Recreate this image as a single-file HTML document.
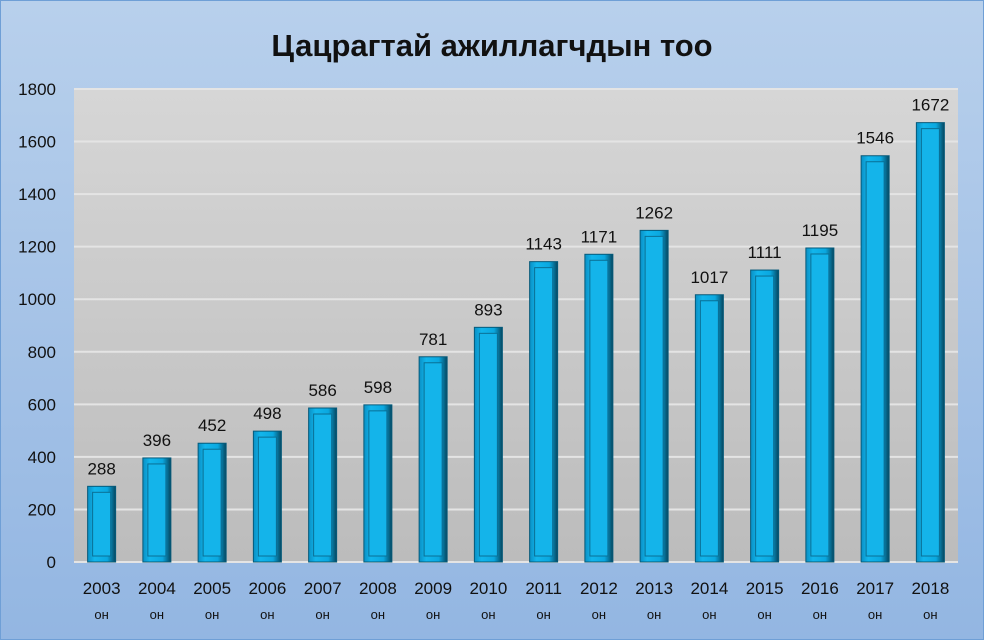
<!DOCTYPE html>
<html><head><meta charset="utf-8"><style>
html,body{margin:0;padding:0;width:984px;height:640px;overflow:hidden}
svg{display:block;font-family:"Liberation Sans","DejaVu Sans",sans-serif}
</style></head><body>
<svg id="chart" width="984" height="640" viewBox="0 0 984 640">
<defs>
<linearGradient id="bg" x1="0" y1="0" x2="0" y2="1"><stop offset="0" stop-color="#b8d0ec"/><stop offset="1" stop-color="#93b6e2"/></linearGradient>
<linearGradient id="plot" x1="0" y1="0" x2="0" y2="1"><stop offset="0" stop-color="#d6d6d6"/><stop offset="1" stop-color="#bcbcbc"/></linearGradient>
<linearGradient id="barg" x1="0" y1="0" x2="1" y2="0"><stop offset="0" stop-color="#0a8fc4"/><stop offset="0.25" stop-color="#12b6ec"/><stop offset="0.7" stop-color="#0aa8e0"/><stop offset="1" stop-color="#05465f"/></linearGradient>
</defs>
<rect x="0" y="0" width="984" height="640" fill="url(#bg)" stroke="#6f9fd6" stroke-width="2"/>
<text x="492" y="56" text-anchor="middle" font-size="31" font-weight="bold" fill="#111">Цацрагтай ажиллагчдын тоо</text>
<rect x="74" y="89" width="884" height="473" fill="url(#plot)"/>
<g id="grid"></g><g id="bars"></g><g id="labels"></g>
</svg>
<script>
const categories=["2003","2004","2005","2006","2007","2008","2009","2010","2011","2012","2013","2014","2015","2016","2017","2018"];
const values=[288,396,452,498,586,598,781,893,1143,1171,1262,1017,1111,1195,1546,1672];
const yTicks=[0,200,400,600,800,1000,1200,1400,1600,1800];
const NS="http://www.w3.org/2000/svg";
const x0=74,x1=958,yTop=89,yBot=562,yMax=1800;
const bw=(x1-x0)/categories.length;
function y(v){return yBot-(v/yMax)*(yBot-yTop);}
function xc(i){return x0+bw*(i+0.5);}
function mk(tag,attrs,parent){const e=document.createElementNS(NS,tag);for(const k in attrs)e.setAttribute(k,attrs[k]);parent.appendChild(e);return e;}
const grid=document.getElementById('grid'),bars=document.getElementById('bars'),labels=document.getElementById('labels');
yTicks.forEach(t=>{
  const l=mk('line',{x1:x0,x2:x1,y1:y(t),y2:y(t),stroke:'#e4e4e4','stroke-width':2},grid);
  
  
  const tx=mk('text',{x:56,y:y(t)+6,'text-anchor':'end','font-size':17,fill:'#111'},grid);
  tx.textContent=t;
  
  
});
categories.forEach((c,i)=>{
  const v=values[i],cx=xc(i),w=28,top=y(v);
  const g=mk('g',{},bars);
  
  
  mk('rect',{x:cx-w/2,y:top,width:w,height:yBot-top,fill:'url(#barg)',stroke:'#065a7a','stroke-width':1},g);
  mk('rect',{x:cx-w/2+5,y:top+6,width:w-10,height:Math.max(0,yBot-top-12),fill:'#14b4ea',stroke:'#0a6f95','stroke-width':1},g);
  const lb=mk('text',{x:cx,y:top-12,'text-anchor':'middle','font-size':17,fill:'#111'},labels);
  lb.textContent=v;
  
  
  const t1=mk('text',{x:cx,y:594,'text-anchor':'middle','font-size':17,fill:'#111'},labels);
  t1.textContent=c;
  
  
  const t2=mk('text',{x:cx,y:619,'text-anchor':'middle','font-size':13,fill:'#111'},labels);
  t2.textContent='он';
  
  
});
</script>
</body></html>
